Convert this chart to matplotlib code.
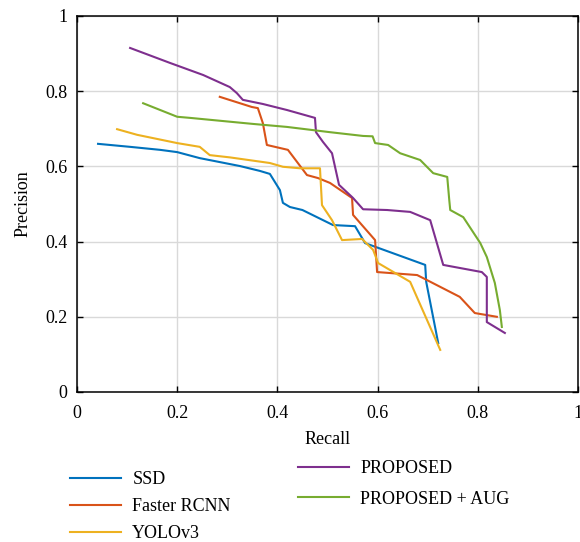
import matplotlib
matplotlib.use("Agg")
import matplotlib.pyplot as plt

plt.rcParams['font.family'] = ['Liberation Serif', 'DejaVu Serif']

ssd_x = [0.042, 0.106, 0.166, 0.200, 0.245, 0.325, 0.365, 0.385, 0.405, 0.411, 0.425, 0.450, 0.511, 0.555, 0.575, 0.695, 0.697, 0.721]
ssd_y = [0.660, 0.652, 0.644, 0.638, 0.622, 0.601, 0.588, 0.580, 0.537, 0.503, 0.492, 0.484, 0.444, 0.441, 0.396, 0.338, 0.293, 0.130]

frcnn_x = [0.285, 0.349, 0.361, 0.371, 0.379, 0.421, 0.459, 0.481, 0.505, 0.549, 0.551, 0.595, 0.599, 0.679, 0.764, 0.794, 0.838]
frcnn_y = [0.785, 0.758, 0.755, 0.715, 0.657, 0.644, 0.577, 0.569, 0.556, 0.516, 0.471, 0.404, 0.319, 0.311, 0.253, 0.210, 0.200]

yolo_x = [0.080, 0.120, 0.200, 0.245, 0.265, 0.305, 0.385, 0.411, 0.445, 0.485, 0.489, 0.509, 0.529, 0.569, 0.591, 0.601, 0.665, 0.725]
yolo_y = [0.699, 0.684, 0.662, 0.652, 0.630, 0.624, 0.609, 0.599, 0.595, 0.595, 0.497, 0.457, 0.404, 0.407, 0.378, 0.343, 0.293, 0.112]

prop_x = [0.106, 0.186, 0.252, 0.305, 0.319, 0.331, 0.371, 0.419, 0.475, 0.477, 0.491, 0.509, 0.523, 0.551, 0.571, 0.619, 0.665, 0.705, 0.731, 0.808, 0.818, 0.818, 0.854]
prop_y = [0.915, 0.875, 0.843, 0.811, 0.795, 0.777, 0.766, 0.750, 0.729, 0.691, 0.665, 0.635, 0.551, 0.516, 0.486, 0.484, 0.479, 0.457, 0.338, 0.319, 0.306, 0.186, 0.157]

aug_x = [0.132, 0.200, 0.226, 0.351, 0.419, 0.505, 0.571, 0.590, 0.595, 0.621, 0.645, 0.685, 0.711, 0.739, 0.743, 0.745, 0.771, 0.805, 0.818, 0.834, 0.844, 0.848]
aug_y = [0.768, 0.732, 0.729, 0.713, 0.705, 0.691, 0.681, 0.680, 0.662, 0.657, 0.635, 0.617, 0.582, 0.572, 0.511, 0.484, 0.465, 0.396, 0.359, 0.290, 0.218, 0.173]

ticks = [0, 0.2, 0.4, 0.6, 0.8, 1]
tick_labels = ['0', '0.2', '0.4', '0.6', '0.8', '1']

colors = ['#0072BD', '#D95319', '#EDB120', '#7E2F8E', '#77AC30']

fig = plt.figure(figsize=(5.8, 5.42), dpi=100)
ax = fig.add_axes([77/580, 1-392/542, 501/580, 376/542])

lw = 1.5
l1, = ax.plot(ssd_x, ssd_y, color=colors[0], lw=lw, label='SSD')
l2, = ax.plot(frcnn_x, frcnn_y, color=colors[1], lw=lw, label='Faster RCNN')
l3, = ax.plot(yolo_x, yolo_y, color=colors[2], lw=lw, label='YOLOv3')
l4, = ax.plot(prop_x, prop_y, color=colors[3], lw=lw, label='PROPOSED')
l5, = ax.plot(aug_x, aug_y, color=colors[4], lw=lw, label='PROPOSED + AUG')

ax.set_xlim(0, 1)
ax.set_ylim(0, 1)
ax.set_xticks(ticks)
ax.set_xticklabels(tick_labels)
ax.set_yticks(ticks)
ax.set_yticklabels(tick_labels)
ax.tick_params(direction='in', top=True, right=True, labelsize=13, length=4, width=1)
ax.tick_params(axis='x', pad=9)
ax.tick_params(axis='y', pad=7)
ax.grid(True, color='#d9d9d9', lw=1)
ax.set_axisbelow(True)
for s in ax.spines.values():
    s.set_linewidth(1.1)
ax.set_xlabel('Recall', fontsize=13, labelpad=7)
ax.set_ylabel('Precision', fontsize=13, labelpad=10)

common = dict(frameon=False, fontsize=13, handlelength=2.8, handletextpad=0.65,
              borderpad=0, borderaxespad=0, loc='upper left')
fig.legend(handles=[l1, l2, l3], bbox_to_anchor=(70/580, 1-471/542), labelspacing=0.55, **common)
fig.legend(handles=[l4, l5], bbox_to_anchor=(298/580, 1-460/542), labelspacing=0.75, **common)

fig.savefig('out.png', dpi=100)
